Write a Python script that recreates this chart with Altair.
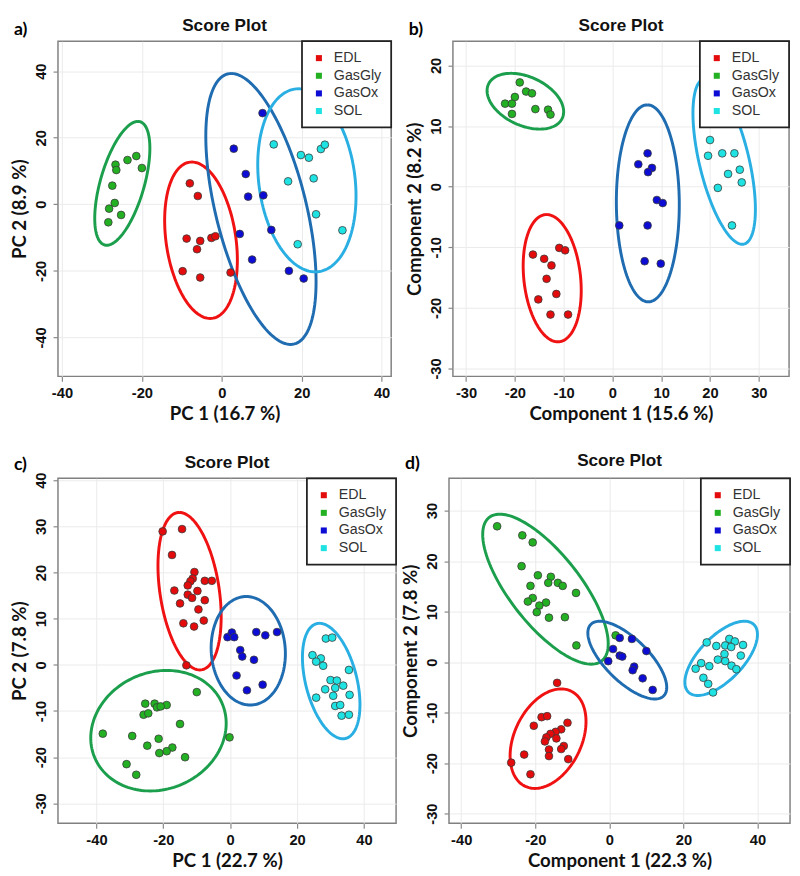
import altair as alt
import numpy as np
import pandas as pd

groups = ["EDL", "GasGly", "GasOx", "SOL"]
point_fill = ["#e30b0b", "#23b123", "#0c0cd4", "#1fe3e3"]
ellipse_stroke = ["#f01212", "#1c9f4c", "#1f6cb1", "#2aafe3"]

# ---------------- Panel a (PCA) ----------------
a_edl_x = [-8.0, -6.0, -8.8, -5.4, -2.6, -1.6, -6.2, -9.8, -5.4, 2.2]
a_edl_y = [6.3, 2.5, -10.3, -11.0, -10.1, -9.6, -13.5, -20.1, -22.0, -20.5]
a_gly_x = [-21.4, -23.6, -20.0, -26.6, -26.4, -27.4, -26.8, -28.2, -25.2, -28.4]
a_gly_y = [14.5, 13.3, 10.9, 11.9, 10.3, 5.6, 0.4, -1.3, -3.2, -5.4]
a_ox_x = [10.2, 3.0, 6.0, 6.6, 10.4, 4.5, 12.4, 7.6, 16.8, 20.5]
a_ox_y = [27.4, 16.7, 9.1, 2.3, 2.7, -8.9, -7.7, -16.6, -20.0, -22.3]
a_sol_x = [13.0, 19.8, 21.8, 24.8, 25.8, 16.6, 23.0, 23.6, 30.2, 19.0]
a_sol_y = [18.0, 14.8, 14.0, 16.6, 17.9, 6.9, 7.8, -3.0, -7.8, -12.0]
a_ell_cx = [-5.2, -24.9, 9.8, 21.3]
a_ell_cy = [-10.8, 6.3, -1.4, 7.2]
a_ell_hx = [9.1, 6.9, 13.8, 12.3]
a_ell_hy = [23.5, 18.6, 40.7, 27.5]
a_ell_dx = [-2.3, 3.9, -7.4, -2.1]

# ---------------- Panel b (PLS-DA) ----------------
b_edl_x = [-16.3, -14.0, -10.9, -9.7, -12.5, -13.5, -11.5, -15.2, -12.7, -9.1]
b_edl_y = [-11.2, -11.9, -10.1, -10.5, -13.0, -15.2, -17.7, -18.6, -21.1, -21.1]
b_gly_x = [-19.0, -17.7, -16.5, -20.0, -22.0, -20.6, -15.8, -13.2, -12.7, -20.6]
b_gly_y = [17.2, 15.7, 15.4, 14.8, 13.7, 13.7, 12.8, 12.7, 11.9, 12.0]
b_ox_x = [7.2, 5.3, 8.1, 7.3, 9.1, 10.3, 1.4, 7.2, 6.6, 9.9]
b_ox_y = [5.5, 3.7, 3.1, 2.4, -2.2, -2.7, -6.4, -6.4, -12.3, -12.7]
b_sol_x = [20.0, 19.6, 22.5, 25.0, 23.7, 26.1, 26.5, 21.6, 24.5]
b_sol_y = [7.7, 5.1, 5.5, 5.5, 2.1, 2.8, 0.7, -0.2, -6.4]
b_ell_cx = [-12.35, -17.85, 7.25, 22.9]
b_ell_cy = [-15.1, 14.1, -2.75, 4.2]
b_ell_hx = [5.95, 7.85, 6.45, 6.4]
b_ell_hy = [10.5, 4.6, 16.25, 13.7]
b_ell_dx = [-1.15, -2.95, -0.1, -3.7]

# ---------------- Panel c (PCA) ----------------
c_edl_x = [-20.2, -14.4, -17.4, -10.7, -11.2, -11.9, -7.6, -5.5, -12.7, -16.7,
           -9.8, -12.7, -11.4, -7.6, -15.0, -9.5, -14.0, -7.9, -10.8, -13.1]
c_edl_y = [28.9, 29.4, 23.8, 20.1, 18.7, 18.1, 18.2, 18.2, 17.2, 16.1,
           16.0, 15.2, 14.5, 14.0, 13.3, 12.0, 9.0, 9.6, 8.3, -0.1]
c_gly_x = [-10.0, -25.4, -22.6, -19.0, -25.9, -24.5, -21.9, -20.8, -15.0, -38.1,
           -29.3, -21.4, -0.2, -24.8, -17.3, -19.0, -21.2, -13.5, -31.0, -28.1]
c_gly_y = [-5.9, -8.4, -8.4, -8.7, -10.8, -10.5, -9.2, -9.0, -12.8, -14.9,
           -15.4, -16.0, -15.7, -17.5, -17.9, -18.7, -19.1, -20.0, -21.5, -23.8]
c_ox_x = [-0.8, 0.5, 1.2, 7.8, 10.5, 14.0, 3.0, 3.6, 7.1, 1.9, 9.7, 5.0]
c_ox_y = [6.0, 7.0, 6.0, 7.1, 6.4, 7.1, 3.2, 1.8, 1.1, -2.3, -4.3, -5.5]
c_sol_x = [28.6, 30.5, 24.6, 27.1, 25.7, 27.8, 35.5, 30.0, 31.9, 31.4,
           28.4, 33.8, 30.8, 35.7, 25.7, 31.4, 32.9, 33.3, 35.5]
c_sol_y = [5.7, 5.9, 2.1, 1.4, 0.7, -0.2, -1.1, -3.3, -3.4, -5.0,
           -5.3, -4.5, -6.7, -6.5, -7.1, -8.9, -8.7, -11.0, -10.8]
c_ell_cx = [-12.15, -21.45, 5.4, 30.2]
c_ell_cy = [15.95, -14.25, 3.05, -3.5]
c_ell_hx = [9.45, 20.25, 11.1, 8.6]
c_ell_hy = [17.05, 13.05, 11.75, 12.5]
c_ell_dx = [-3.05, 2.45, -0.6, -3.5]

# ---------------- Panel d (PLS-DA) ----------------
d_edl_x = [-14.1, -18.3, -16.8, -20.4, -11.3, -13.0, -14.5, -15.9, -17.0, -14.3,
           -17.4, -12.3, -13.0, -16.3, -16.3, -23.0, -11.1, -26.5, -21.3]
d_edl_y = [-4.1, -10.9, -10.7, -12.6, -12.0, -13.3, -13.8, -14.2, -14.9, -15.1,
           -15.7, -16.6, -17.2, -17.3, -18.6, -18.3, -19.2, -19.9, -22.2]
d_gly_x = [-30.3, -23.5, -20.7, -23.7, -19.3, -15.8, -16.5, -13.9, -12.6, -21.3,
           -9.0, -20.7, -22.0, -17.1, -18.9, -19.6, -16.3, -12.0, -8.9, 1.7]
d_gly_y = [26.9, 25.1, 23.7, 19.0, 17.2, 16.9, 15.7, 15.7, 15.1, 15.1,
           13.7, 12.7, 12.0, 11.8, 11.2, 9.9, 8.8, 8.9, 3.3, 5.3]
d_ox_x = [2.8, 6.1, 1.0, 2.8, 3.5, 10.0, -0.3, 6.7, 6.3, 9.0, 11.7]
d_ox_y = [4.8, 4.6, 2.6, 1.3, 1.1, 2.2, 0.2, -0.9, -1.6, -3.2, -5.5]
d_sol_x = [32.4, 33.9, 26.3, 36.1, 28.9, 31.3, 32.9, 35.5, 31.1, 29.3,
           31.3, 24.8, 33.0, 27.0, 23.3, 34.3, 25.4, 26.7, 28.0]
d_sol_y = [4.6, 4.1, 3.9, 3.4, 3.2, 3.3, 3.0, 1.3, 1.6, 0.5,
           0.2, -0.2, -0.7, -0.8, -1.3, -1.4, -3.1, -4.3, -6.0]
d_ell_cx = [-16.55, -17.25, 4.85, 30.2]
d_ell_cy = [-15.15, 14.45, 0.4, 0.75]
d_ell_hx = [10.25, 16.95, 10.65, 9.8]
d_ell_hy = [9.85, 14.85, 7.7, 7.35]
d_ell_dx = [3.55, -12.35, -7.45, 6.3]


def points_df(xs_list, ys_list):
    rows = []
    for g, xs, ys in zip(groups, xs_list, ys_list):
        for x, y in zip(xs, ys):
            rows.append({"group": g, "x": x, "y": y})
    return pd.DataFrame(rows)


def ellipse_df(cx, cy, hx, hy, dx):
    rows = []
    t = np.linspace(0, 2 * np.pi, 145)
    for g, a, b, w, h, d in zip(groups, cx, cy, hx, hy, dx):
        side = np.sqrt(max(w * w - d * d, 0.0))
        xs = a + d * np.cos(t) + side * np.sin(t)
        ys = b + h * np.cos(t)
        for i, (x, y) in enumerate(zip(xs, ys)):
            rows.append({"ell": g, "x": float(x), "y": float(y), "i": i})
    return pd.DataFrame(rows)


def panel(letter, pxs, pys, ell, xdom, ydom, xticks, yticks, xtitle, ytitle,
          w, h, title_dy, letter_dy):
    pdf = points_df(pxs, pys)
    edf = ellipse_df(*ell)
    X = alt.X("x:Q", scale=alt.Scale(domain=xdom, nice=False, zero=False),
              axis=alt.Axis(values=xticks, title=xtitle, grid=True,
                            labelExpr="'' + datum.value"))
    Y = alt.Y("y:Q", scale=alt.Scale(domain=ydom, nice=False, zero=False),
              axis=alt.Axis(values=yticks, title=ytitle, grid=True, labelAngle=270,
                            labelAlign="center", labelBaseline="bottom",
                            labelExpr="'' + datum.value"))
    ell_layer = alt.Chart(edf).mark_line(strokeWidth=3, clip=True).encode(
        x=X, y=Y,
        stroke=alt.Stroke("ell:N", scale=alt.Scale(range=ellipse_stroke), legend=None),
        order="i:Q",
    )
    pt_layer = alt.Chart(pdf).mark_circle(size=62, opacity=1, stroke="#3a3a3a", strokeWidth=0.8).encode(
        x=X, y=Y,
        color=alt.Color("group:N", scale=alt.Scale(domain=groups, range=point_fill),
                        legend=alt.Legend(orient="top-right", offset=0, title=None,
                                          symbolType="square", symbolSize=38)),
    )
    tdf = pd.DataFrame({"t": ["Score Plot"]})
    title_layer = alt.Chart(tdf).mark_text(font="Liberation Sans", fontWeight="bold", fontSize=17.5,
                                           align="center", baseline="middle", color="#111").encode(
        x=alt.value(w / 2), y=alt.value(title_dy), text="t:N")
    ldf = pd.DataFrame({"t": [letter]})
    letter_layer = alt.Chart(ldf).mark_text(font="Lato", fontWeight="bold", fontSize=18,
                                            align="left", baseline="middle", color="#000").encode(
        x=alt.value(-45), y=alt.value(letter_dy), text="t:N")
    return alt.layer(ell_layer, pt_layer, title_layer, letter_layer).properties(width=w, height=h)


pa = panel("a)", [a_edl_x, a_gly_x, a_ox_x, a_sol_x], [a_edl_y, a_gly_y, a_ox_y, a_sol_y],
           (a_ell_cx, a_ell_cy, a_ell_hx, a_ell_hy, a_ell_dx),
           [-41, 42.4], [-51.7, 49], [-40, -20, 0, 20, 40], [-40, -20, 0, 20, 40],
           "PC 1 (16.7 %)", "PC 2 (8.9 %)", 340, 342, -15, -11)
pb = panel("b)", [b_edl_x, b_gly_x, b_ox_x, b_sol_x], [b_edl_y, b_gly_y, b_ox_y, b_sol_y],
           (b_ell_cx, b_ell_cy, b_ell_hx, b_ell_hy, b_ell_dx),
           [-32.7, 36.2], [-31.3, 24], [-30, -20, -10, 0, 10, 20, 30], [-30, -20, -10, 0, 10, 20],
           "Component 1 (15.6 %)", "Component 2  (8.2 %)", 343, 342, -15, -11)
pc = panel("c)", [c_edl_x, c_gly_x, c_ox_x, c_sol_x], [c_edl_y, c_gly_y, c_ox_y, c_sol_y],
           (c_ell_cx, c_ell_cy, c_ell_hx, c_ell_hy, c_ell_dx),
           [-51.5, 49.6], [-34.3, 40.4], [-40, -20, 0, 20, 40], [-30, -20, -10, 0, 10, 20, 30, 40],
           "PC 1 (22.7 %)", "PC 2 (7.8 %)", 345, 352, -16, -13)
pd_ = panel("d)", [d_edl_x, d_gly_x, d_ox_x, d_sol_x], [d_edl_y, d_gly_y, d_ox_y, d_sol_y],
            (d_ell_cx, d_ell_cy, d_ell_hx, d_ell_hy, d_ell_dx),
            [-43.3, 48.8], [-31.9, 36.4], [-40, -20, 0, 20, 40], [-30, -20, -10, 0, 10, 20, 30],
            "Component 1 (22.3 %)", "Component 2  (7.8 %)", 348, 352, -18, -14)

row1 = alt.hconcat(pa, pb, spacing=12).resolve_scale(color="independent", stroke="independent")
row2 = alt.hconcat(pc, pd_, spacing=3).resolve_scale(color="independent", stroke="independent")

chart = alt.vconcat(row1, row2, spacing=27).resolve_scale(
    color="independent", stroke="independent"
).configure(
    padding={"left": 2, "top": 0, "right": 0, "bottom": 0}, background="white"
).configure_view(
    stroke="#808080", strokeWidth=1.5
).configure_axis(
    labelFont="Liberation Sans", labelFontSize=15, labelFontWeight="bold", labelColor="#111",
    titleFont="Lato", titleFontSize=19, titleFontWeight="bold", titleColor="#111",
    domain=False, tickColor="#888888", tickSize=5, tickWidth=1.2,
    gridColor="#ebebeb", gridWidth=1, labelPadding=5, titlePadding=4,
).configure_legend(
    strokeColor="#222222", strokeWidth=1.8, fillColor="white", cornerRadius=0,
    padding=10, rowPadding=3, labelOffset=8, labelFont="Liberation Sans", labelFontSize=14.5,
    labelColor="#333333", symbolStrokeWidth=0
)

chart.save("out.html", embed_options={"renderer": "svg", "actions": False})
